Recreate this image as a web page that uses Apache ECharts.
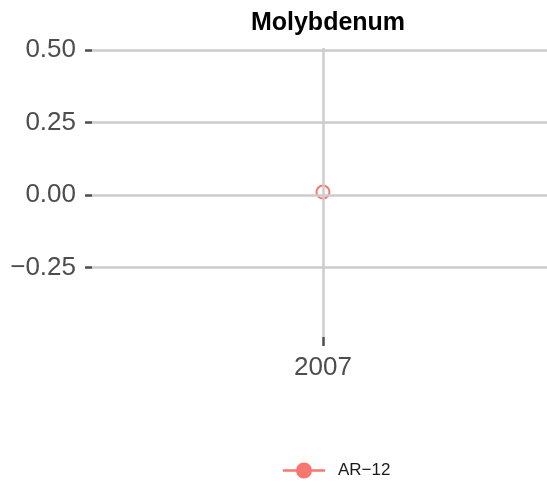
<!DOCTYPE html>
<html>
<head>
<meta charset="utf-8">
<script src="https://cdn.jsdelivr.net/npm/echarts@6/dist/echarts.min.js"></script>
<style>
  html, body { margin: 0; padding: 0; background: #fff; }
  #chart { width: 547px; height: 482px; }
</style>
</head>
<body>
<div id="chart"></div>
<script>
// data
const years = [2007];
const molybdenum = [0.01];
const yTicks = [-0.25, 0, 0.25, 0.5];
const xTicks = [2007];
const seriesName = "AR-12";

const chart = echarts.init(document.getElementById("chart"));
const font = "Liberation Sans, Arial, Helvetica, sans-serif";
const gridColor = "#cccccc";

chart.setOption({
  backgroundColor: "#ffffff",
  title: {
    text: "Molybdenum",
    left: 323,
    textAlign: "center",
    top: 6,
    textStyle: { fontFamily: font, fontSize: 25, fontWeight: "bold", color: "#000" }
  },
  grid: { left: 92, right: 0, top: 48, bottom: 145 },
  legend: {
    left: 283,
    top: 462,
    padding: 0,
    itemWidth: 42,
    itemHeight: 16,
    data: [{
      name: seriesName,
      icon: "path://M0,6.75h42v2.5H0z M21,0a8,8 0 1,1 0,16a8,8 0 1,1 0,-16z",
      itemStyle: { color: "#F8766D", borderWidth: 0 }
    }],
    formatter: name => name.replace("-", "\u2212"),
    textStyle: { fontFamily: font, fontSize: 17, color: "#1a1a1a", padding: [0, 0, 0, 8] }
  },
  xAxis: {
    type: "value",
    // the panel is a little wider on the right than on the left of 2007
    min: 2006.5,
    max: 2007.485,
    axisLine: { show: true, onZero: false, lineStyle: { opacity: 0 } },
    splitLine: { show: false },
    axisTick: { show: true, inside: false, customValues: xTicks, length: 9, lineStyle: { color: "#4d4d4d", width: 2.5 } },
    axisLabel: {
      customValues: xTicks,
      margin: 18,
      fontFamily: font,
      fontSize: 26,
      color: "#4d4d4d",
      formatter: v => String(v)
    }
  },
  yAxis: {
    type: "value",
    min: -0.49,
    max: 0.507,
    axisLine: { show: false },
    splitLine: { show: false },
    axisTick: { show: true, customValues: yTicks, length: 7, lineStyle: { color: "#4d4d4d", width: 2.5 } },
    axisLabel: {
      customValues: yTicks,
      margin: 16,
      fontFamily: font,
      fontSize: 26,
      color: "#4d4d4d",
      formatter: v => (v < 0 ? "\u2212" : "") + Math.abs(v).toFixed(2)
    }
  },
  series: [{
    name: seriesName,
    type: "line",
    data: years.map((y, i) => [y, molybdenum[i]]),
    symbol: "emptyCircle",
    symbolSize: 13,
    itemStyle: { color: "#F8766D", borderWidth: 1.5 },
    lineStyle: { color: "#F8766D", width: 2.5 },
    z: 3,
    markLine: {
      silent: true,
      symbol: "none",
      label: { show: false },
      lineStyle: { color: gridColor, width: 2.5, type: "solid" },
      data: yTicks.map(t => ({ yAxis: t })).concat(xTicks.map(t => ({ xAxis: t })))
    }
  }]
});
</script>
</body>
</html>
